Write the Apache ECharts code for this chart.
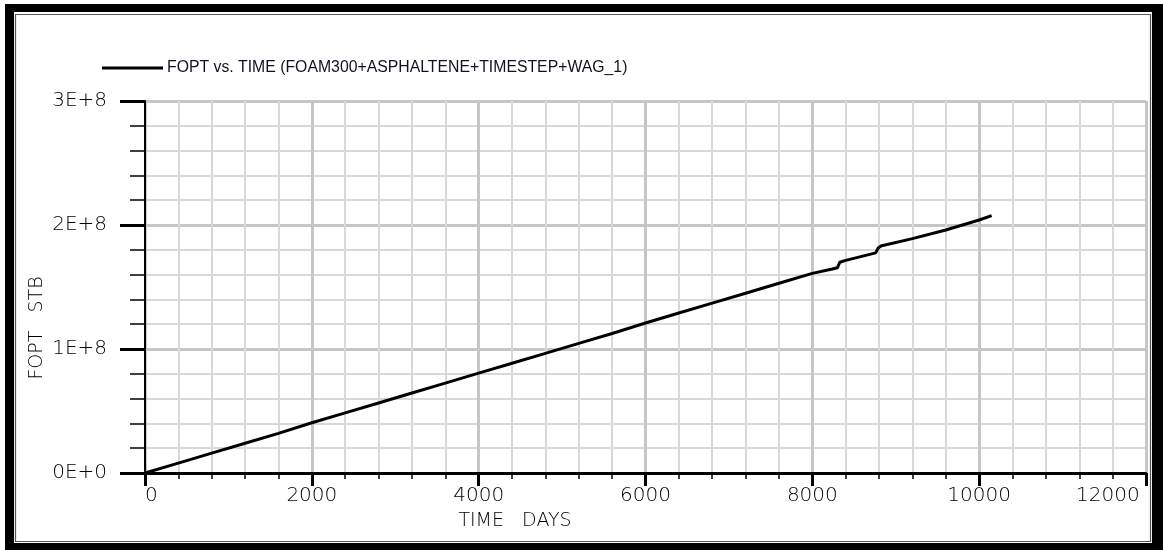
<!DOCTYPE html>
<html>
<head>
<meta charset="utf-8">
<title>FOPT vs. TIME</title>
<script src="https://cdn.jsdelivr.net/npm/echarts@6/dist/echarts.min.js"></script>
<style>
  html, body { margin: 0; padding: 0; background: #ffffff; }
  #chart { width: 1163px; height: 550px; }
</style>
</head>
<body>
<div id="chart"></div>
<script>
// Field oil production total (STB) against simulation time (days)
const timeDays = [0, 400, 800, 1200, 1600, 2000, 2400, 2800, 3200, 3600, 4000, 4400, 4800, 5200,
  5600, 6000, 6400, 6800, 7200, 7600, 8000, 8240, 8300, 8330, 8400, 8760, 8790, 8820,
  9200, 9600, 10000, 10150];
const foptStb = [0, 0.08e8, 0.16e8, 0.24e8, 0.32e8, 0.405e8, 0.485e8, 0.565e8, 0.645e8, 0.725e8,
  0.805e8, 0.885e8, 0.965e8, 1.045e8, 1.125e8, 1.21e8, 1.29e8, 1.37e8, 1.45e8, 1.53e8,
  1.61e8, 1.645e8, 1.655e8, 1.70e8, 1.715e8, 1.775e8, 1.815e8, 1.83e8,
  1.89e8, 1.96e8, 2.04e8, 2.075e8];
const yTickLabels = ['0E+0', '1E+8', '2E+8', '3E+8'];
const seriesName = 'FOPT vs. TIME (FOAM300+ASPHALTENE+TIMESTEP+WAG_1)';
const xAxisTitle = 'TIME   DAYS';
const yAxisTitle = 'FOPT   STB';

const tickFont = 'DejaVu Sans';
const chart = echarts.init(document.getElementById('chart'), null, { renderer: 'canvas' });

chart.setOption({
  backgroundColor: '#ffffff',
  animation: false,
  graphic: [
    // heavy black outer frame
    { type: 'rect', z: -100, shape: { x: 5, y: 4, width: 1160, height: 550 }, style: { fill: '#000000' } },
    { type: 'rect', z: -99, shape: { x: 14, y: 12, width: 1138, height: 531 }, style: { fill: '#ffffff' } },
    // thin inner border
    { type: 'rect', z: -98, shape: { x: 15.5, y: 14.5, width: 1135, height: 527 },
      style: { fill: null, stroke: '#555555', lineWidth: 1.2 } },
    // axis titles
    { type: 'text', z: 10, x: 515, y: 521,
      style: { text: xAxisTitle, font: '200 19px "DejaVu Sans"', fill: '#000', align: 'center', verticalAlign: 'middle' } },
    { type: 'text', z: 10, x: 37, y: 328, rotation: Math.PI / 2,
      style: { text: yAxisTitle, font: '200 19px "DejaVu Sans"', fill: '#000', align: 'center', verticalAlign: 'middle' } }
  ],
  legend: {
    show: true,
    left: 102,
    top: 60,
    padding: 0,
    icon: 'rect',
    itemWidth: 61,
    itemHeight: 3,
    itemGap: 10,
    textStyle: { fontFamily: 'Liberation Sans', fontSize: 15.8, color: '#111122', padding: [0, 0, 0, -1] },
    data: [seriesName]
  },
  grid: { left: 145, top: 101, right: 17, bottom: 77, containLabel: false },
  xAxis: {
    type: 'value',
    min: 0,
    max: 12000,
    interval: 2000,
    axisLine: { show: true, onZero: false, lineStyle: { color: '#000', width: 3 } },
    axisTick: { show: true, length: 13, lineStyle: { color: '#000', width: 3 } },
    minorTick: { show: true, splitNumber: 5, length: 6, lineStyle: { color: '#000', width: 1.5 } },
    axisLabel: {
      fontFamily: tickFont, fontWeight: 200, fontSize: 20, color: '#000', margin: 13,
      alignMinLabel: 'left', alignMaxLabel: 'right',
      // the last label sits a little inside the axis end
      formatter: v => (v === 12000 ? v + '\u00a0' : String(v))
    },
    splitLine: { show: true, lineStyle: { color: '#c6c6c6', width: 3 } },
    minorSplitLine: { show: true, lineStyle: { color: '#d8d8d8', width: 2 } }
  },
  yAxis: {
    type: 'value',
    min: 0,
    max: 3e8,
    interval: 1e8,
    axisLine: { show: true, onZero: false, lineStyle: { color: '#000', width: 2 } },
    axisTick: { show: true, length: 25, lineStyle: { color: '#000', width: 3 } },
    minorTick: { show: true, splitNumber: 5, length: 15, lineStyle: { color: '#000', width: 1.5 } },
    axisLabel: {
      fontFamily: tickFont, fontWeight: 200, fontSize: 20, color: '#000', margin: 38,
      formatter: (v) => yTickLabels[Math.round(v / 1e8)]
    },
    splitLine: { show: true, lineStyle: { color: '#c6c6c6', width: 3 } },
    minorSplitLine: { show: true, lineStyle: { color: '#d8d8d8', width: 2 } }
  },
  series: [{
    name: seriesName,
    type: 'line',
    data: timeDays.map((t, i) => [t, foptStb[i]]),
    showSymbol: false,
    smooth: false,
    lineStyle: { color: '#000', width: 3 },
    itemStyle: { color: '#000' },
    z: 5
  }]
});
</script>
</body>
</html>
